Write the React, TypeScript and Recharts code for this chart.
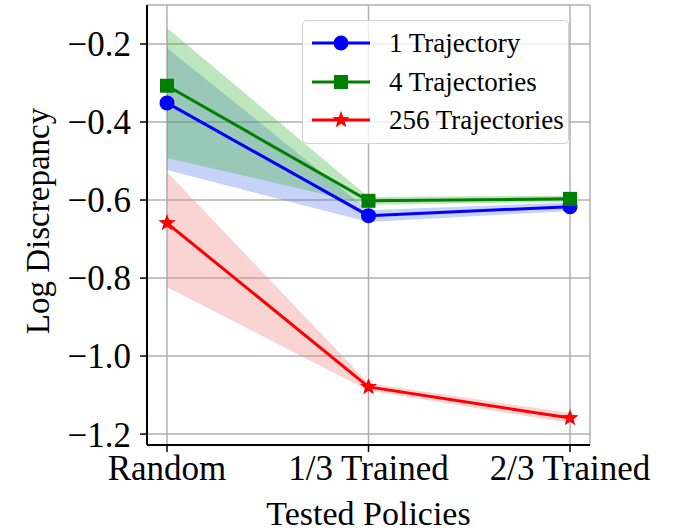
import { Area, CartesianGrid, ComposedChart, Line, XAxis, YAxis } from "recharts";

const POLICIES = ["Random", "1/3 Trained", "2/3 Trained"];

const ONE_MEAN = [-0.351, -0.64, -0.617];
const ONE_LOW = [-0.523, -0.656, -0.628];
const ONE_HIGH = [-0.21, -0.626, -0.606];

const FOUR_MEAN = [-0.307, -0.602, -0.597];
const FOUR_LOW = [-0.492, -0.612, -0.605];
const FOUR_HIGH = [-0.159, -0.592, -0.589];

const MANY_MEAN = [-0.659, -1.079, -1.159];
const MANY_LOW = [-0.823, -1.088, -1.172];
const MANY_HIGH = [-0.528, -1.07, -1.146];

const Y_TICKS = [-1.2, -1.0, -0.8, -0.6, -0.4, -0.2];

const SERIES = [
  { key: "one", name: "1 Trajectory", color: "#0000ff", marker: "circle" },
  { key: "four", name: "4 Trajectories", color: "#008000", marker: "square" },
  { key: "many", name: "256 Trajectories", color: "#ff0000", marker: "star" },
];

const data = POLICIES.map((p, i) => ({
  policy: p,
  one: ONE_MEAN[i],
  oneBand: [ONE_LOW[i], ONE_HIGH[i]],
  four: FOUR_MEAN[i],
  fourBand: [FOUR_LOW[i], FOUR_HIGH[i]],
  many: MANY_MEAN[i],
  manyBand: [MANY_LOW[i], MANY_HIGH[i]],
}));

const FONT = "Liberation Serif";

function starPoints(cx: number, cy: number, r: number) {
  const pts: string[] = [];
  for (let k = 0; k < 10; k++) {
    const rr = k % 2 === 0 ? r : r * 0.42;
    const a = -Math.PI / 2 + (k * Math.PI) / 5;
    pts.push(`${cx + rr * Math.cos(a)},${cy + rr * Math.sin(a)}`);
  }
  return pts.join(" ");
}

function Marker({ cx, cy, kind, color }: { cx: number; cy: number; kind: string; color: string }) {
  if (kind === "circle") return <circle cx={cx} cy={cy} r={7.5} fill={color} />;
  if (kind === "square") return <rect x={cx - 7} y={cy - 7} width={14} height={14} fill={color} />;
  return <polygon points={starPoints(cx, cy, 9)} fill={color} />;
}

function makeDot(kind: string, color: string) {
  return (props: any) => {
    const { cx, cy, index } = props;
    if (cx == null || cy == null) return <g key={index} />;
    return <Marker key={index} cx={cx} cy={cy} kind={kind} color={color} />;
  };
}

function LegendBox() {
  return (
    <div
      style={{
        position: "absolute",
        left: 302,
        top: 20,
        width: 267,
        boxSizing: "border-box",
        background: "rgba(255,255,255,0.8)",
        border: "1.5px solid #d0d0d0",
        borderRadius: 5,
        padding: "3px 0 3px 9px",
        fontFamily: FONT,
        fontSize: 27,
        lineHeight: "38.5px",
        color: "#000",
      }}
    >
      {SERIES.map((s) => (
        <div key={s.key} style={{ display: "flex", alignItems: "center", whiteSpace: "nowrap" }}>
          <svg width={58} height={20} style={{ marginRight: 19, flexShrink: 0 }}>
            <line x1={0} y1={10} x2={58} y2={10} stroke={s.color} strokeWidth={3} />
            <Marker cx={29} cy={10} kind={s.marker} color={s.color} />
          </svg>
          <span>{s.name}</span>
        </div>
      ))}
    </div>
  );
}

export default function App() {
  return (
    <div style={{ position: "absolute", left: 0, top: 0, width: 676, height: 532, background: "#fff" }}>
      <ComposedChart width={676} height={532} data={data} margin={{ top: 5, right: 86, bottom: 0, left: 0 }}>
        <CartesianGrid stroke="#b0b0b0" strokeWidth={1.5} />
        <XAxis
          dataKey="policy"
          padding={{ left: 20, right: 20 }}
          height={87}
          tickSize={7}
          tickMargin={3}
          tickLine={{ stroke: "#000", strokeWidth: 1.5 }}
          axisLine={{ stroke: "#000", strokeWidth: 2 }}
          tick={{ fontSize: 35, fontFamily: FONT, fill: "#000" }}
          interval={0}
          label={(p: any) => {
            const vb = p.viewBox;
            return (
              <text x={vb.x + vb.width / 2} y={vb.y + 80} textAnchor="middle" fontSize={34} fontFamily={FONT} fill="#000">
                Tested Policies
              </text>
            );
          }}
        />
        <XAxis xAxisId="top" orientation="top" dataKey="policy" height={0} tick={false} tickLine={false} axisLine={{ stroke: "#000", strokeWidth: 2 }} />
        <YAxis
          domain={[-1.228, -0.1]}
          ticks={Y_TICKS}
          width={147}
          tickSize={7}
          tickMargin={9}
          tickLine={{ stroke: "#000", strokeWidth: 1.5 }}
          axisLine={{ stroke: "#000", strokeWidth: 2 }}
          tick={{ fontSize: 35, fontFamily: FONT, fill: "#000" }}
          tickFormatter={(v: number) => (v < 0 ? "\u2212" : "") + Math.abs(v).toFixed(1)}
          allowDataOverflow
          label={(p: any) => {
            const vb = p.viewBox;
            const x = vb.x + 49;
            const y = vb.y + vb.height / 2 - 4;
            return (
              <text x={x} y={y} transform={`rotate(-90, ${x}, ${y})`} textAnchor="middle" fontSize={33} fontFamily={FONT} fill="#000">
                Log Discrepancy
              </text>
            );
          }}
        />
        <YAxis yAxisId="right" orientation="right" width={0} tick={false} tickLine={false} axisLine={{ stroke: "#000", strokeWidth: 2 }} />
        <Area dataKey="oneBand" type="linear" stroke="none" fill="#4169e1" fillOpacity={0.3} isAnimationActive={false} legendType="none" />
        <Area dataKey="fourBand" type="linear" stroke="none" fill="#44b844" fillOpacity={0.35} isAnimationActive={false} legendType="none" />
        <Area dataKey="manyBand" type="linear" stroke="none" fill="#f08080" fillOpacity={0.35} isAnimationActive={false} legendType="none" />
        {SERIES.map((s) => (
          <Line
            key={s.key}
            dataKey={s.key}
            name={s.name}
            type="linear"
            stroke={s.color}
            strokeWidth={3}
            dot={makeDot(s.marker, s.color)}
            activeDot={false}
            isAnimationActive={false}
          />
        ))}
      </ComposedChart>
      <LegendBox />
    </div>
  );
}
